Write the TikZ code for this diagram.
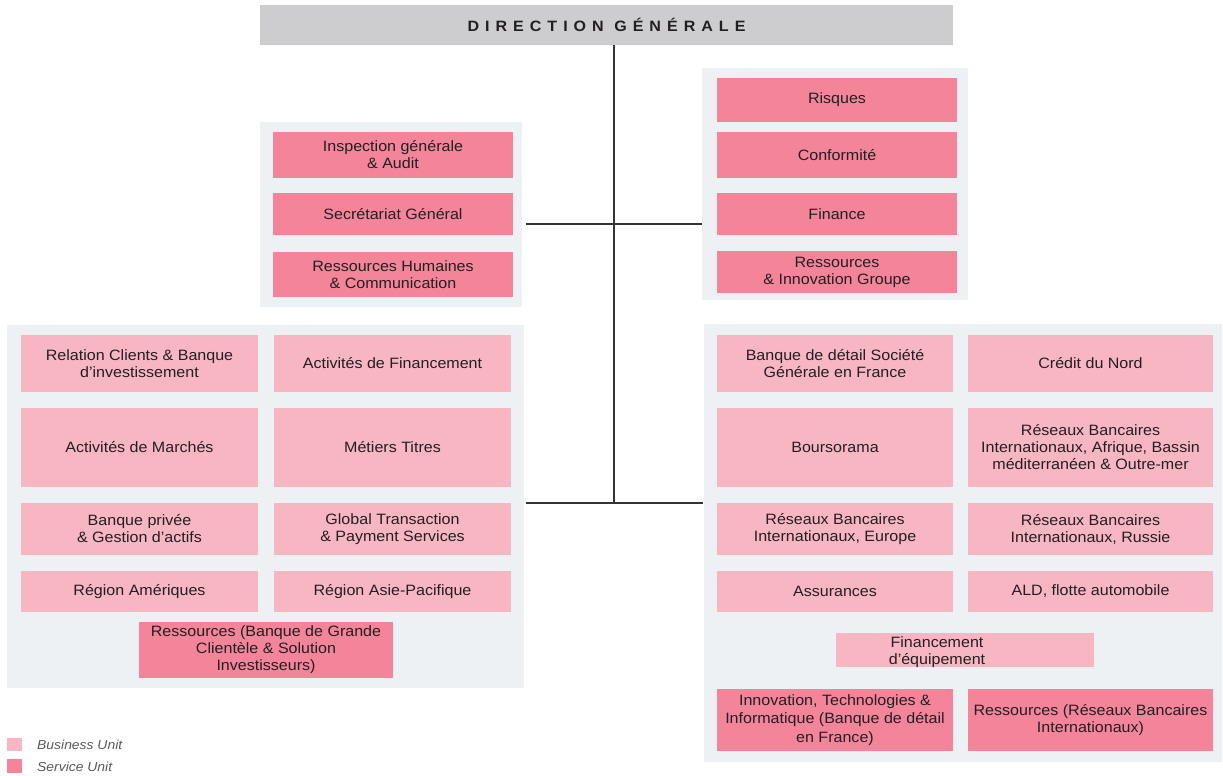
\documentclass[tikz,border=0pt]{standalone}
\usepackage{fontspec}
\setmainfont{Liberation Sans}[FakeStretch=1.07]
\definecolor{bucol}{HTML}{F7B6C2}
\definecolor{sucol}{HTML}{F3849A}
\definecolor{grpcol}{HTML}{EEF1F4}
\definecolor{hdcol}{HTML}{CDCDCF}
\definecolor{txtcol}{HTML}{231F20}
\begin{document}
\begin{tikzpicture}[x=1pt,y=-1pt,
  unit/.style={rectangle, inner sep=0pt, align=center, text=txtcol, font=\fontsize{15}{17}\selectfont},
  bu/.style={unit, fill=bucol},
  su/.style={unit, fill=sucol},
  grp/.style={rectangle, fill=grpcol, inner sep=0pt},
  hdr/.style={rectangle, fill=hdcol, inner sep=0pt, text=txtcol, font=\fontsize{15}{18}\bfseries\addfontfeature{LetterSpace=40}},
  conn/.style={draw=black!80, line width=1.4pt},
  sz/.style 2 args={minimum width=#1pt, minimum height=#2pt},
  legtxt/.style={inner sep=0pt, anchor=west, text=black!65, font=\fontsize{13}{15}\itshape}
]
\useasboundingbox (0,0) rectangle (1223,776);
% header
\node[hdr, sz={693}{40}] (dg) at (606.5,25) {DIRECTION GÉNÉRALE};
% group backgrounds
\node[grp, sz={262}{185}] (ulg) at (391,214.5) {};
\node[grp, sz={266}{232}] (urg) at (835,184) {};
\node[grp, sz={517}{363}] (llg) at (265.5,506.5) {};
\node[grp, sz={518}{438}] (lrg) at (963,543) {};
% upper left
\node[su, sz={240}{46}] (insp) at (393,155) {Inspection générale\\\& Audit};
\node[su, sz={240}{42}] (secr) at (393,214) {Secrétariat Général};
\node[su, sz={240}{45}] (rh) at (393,274.5) {Ressources Humaines\\\& Communication};
% upper right
\node[su, sz={240}{44}] (risq) at (837,100) {Risques};
\node[su, sz={240}{46}] (conf) at (837,155) {Conformité};
\node[su, sz={240}{42}] (fin) at (837,214) {Finance};
\node[su, sz={240}{42}] (rig) at (837,272) {Ressources\\\& Innovation Groupe};
% lower left
\node[bu, sz={237}{57}] (rcbi) at (139.5,363.5) {Relation Clients \& Banque\\d'investissement};
\node[bu, sz={237}{57}] (afin) at (392.5,363.5) {Activités de Financement};
\node[bu, sz={237}{79}] (amar) at (139.5,447.5) {Activités de Marchés};
\node[bu, sz={237}{79}] (mtit) at (392.5,447.5) {Métiers Titres};
\node[bu, sz={237}{52}] (bpga) at (139.5,529) {Banque privée\\\& Gestion d'actifs};
\node[bu, sz={237}{52}] (gtps) at (392.5,529) {Global Transaction\\\& Payment Services};
\node[bu, sz={237}{41}] (ram) at (139.5,591.5) {Région Amériques};
\node[bu, sz={237}{41}] (rap) at (392.5,591.5) {Région Asie-Pacifique};
\node[su, sz={254}{56}] (rbgc) at (266,650) {Ressources (Banque de Grande\\Clientèle \& Solution\\Investisseurs)};
% lower right
\node[bu, sz={236}{57}] (bdsg) at (835,363.5) {Banque de détail Société\\Générale en France};
\node[bu, sz={245}{57}] (cdn) at (1090.5,363.5) {Crédit du Nord};
\node[bu, sz={236}{79}] (bour) at (835,447.5) {Boursorama};
\node[bu, sz={245}{79}] (rbia) at (1090.5,447.5) {Réseaux Bancaires\\Internationaux, Afrique, Bassin\\méditerranéen \& Outre-mer};
\node[bu, sz={236}{52}] (rbie) at (835,529) {Réseaux Bancaires\\Internationaux, Europe};
\node[bu, sz={245}{52}] (rbir) at (1090.5,529) {Réseaux Bancaires\\Internationaux, Russie};
\node[bu, sz={236}{41}] (assu) at (835,591.5) {Assurances};
\node[bu, sz={245}{41}] (ald) at (1090.5,591.5) {ALD, flotte automobile};
\node[bu, sz={258}{34}] (feq) at (965,650) {\hspace*{-28pt}\raisebox{-3pt}[\height][\depth]{\begin{tabular}{@{}c@{}}Financement\\d'équipement\end{tabular}}\hspace*{28pt}};
\node[su, sz={236}{62}, font=\fontsize{15}{18.5}\selectfont] (itib) at (835,720) {Innovation, Technologies \&\\Informatique (Banque de détail\\en France)};
\node[su, sz={245}{62}] (rrbi) at (1090.5,720) {Ressources (Réseaux Bancaires\\Internationaux)};
% connectors
\coordinate (j1) at (614,224);
\coordinate (j2) at (614,503);
\draw[conn] (dg.south -| j1) -- (j2);
\draw[conn, shorten <=4pt] (ulg.east |- j1) -- (urg.west |- j1);
\draw[conn, shorten <=2pt, shorten >=1pt] (llg.east |- j2) -- (lrg.west |- j2);
% legend
\node[bu, sz={15}{13}] (lbu) at (14.5,744) {};
\node[su, sz={15}{14}] (lsu) at (14.5,766) {};
\node[legtxt] (tbu) at (37,745) {Business Unit};
\node[legtxt] (tsu) at (37,767) {Service Unit};
\end{tikzpicture}
\end{document}
